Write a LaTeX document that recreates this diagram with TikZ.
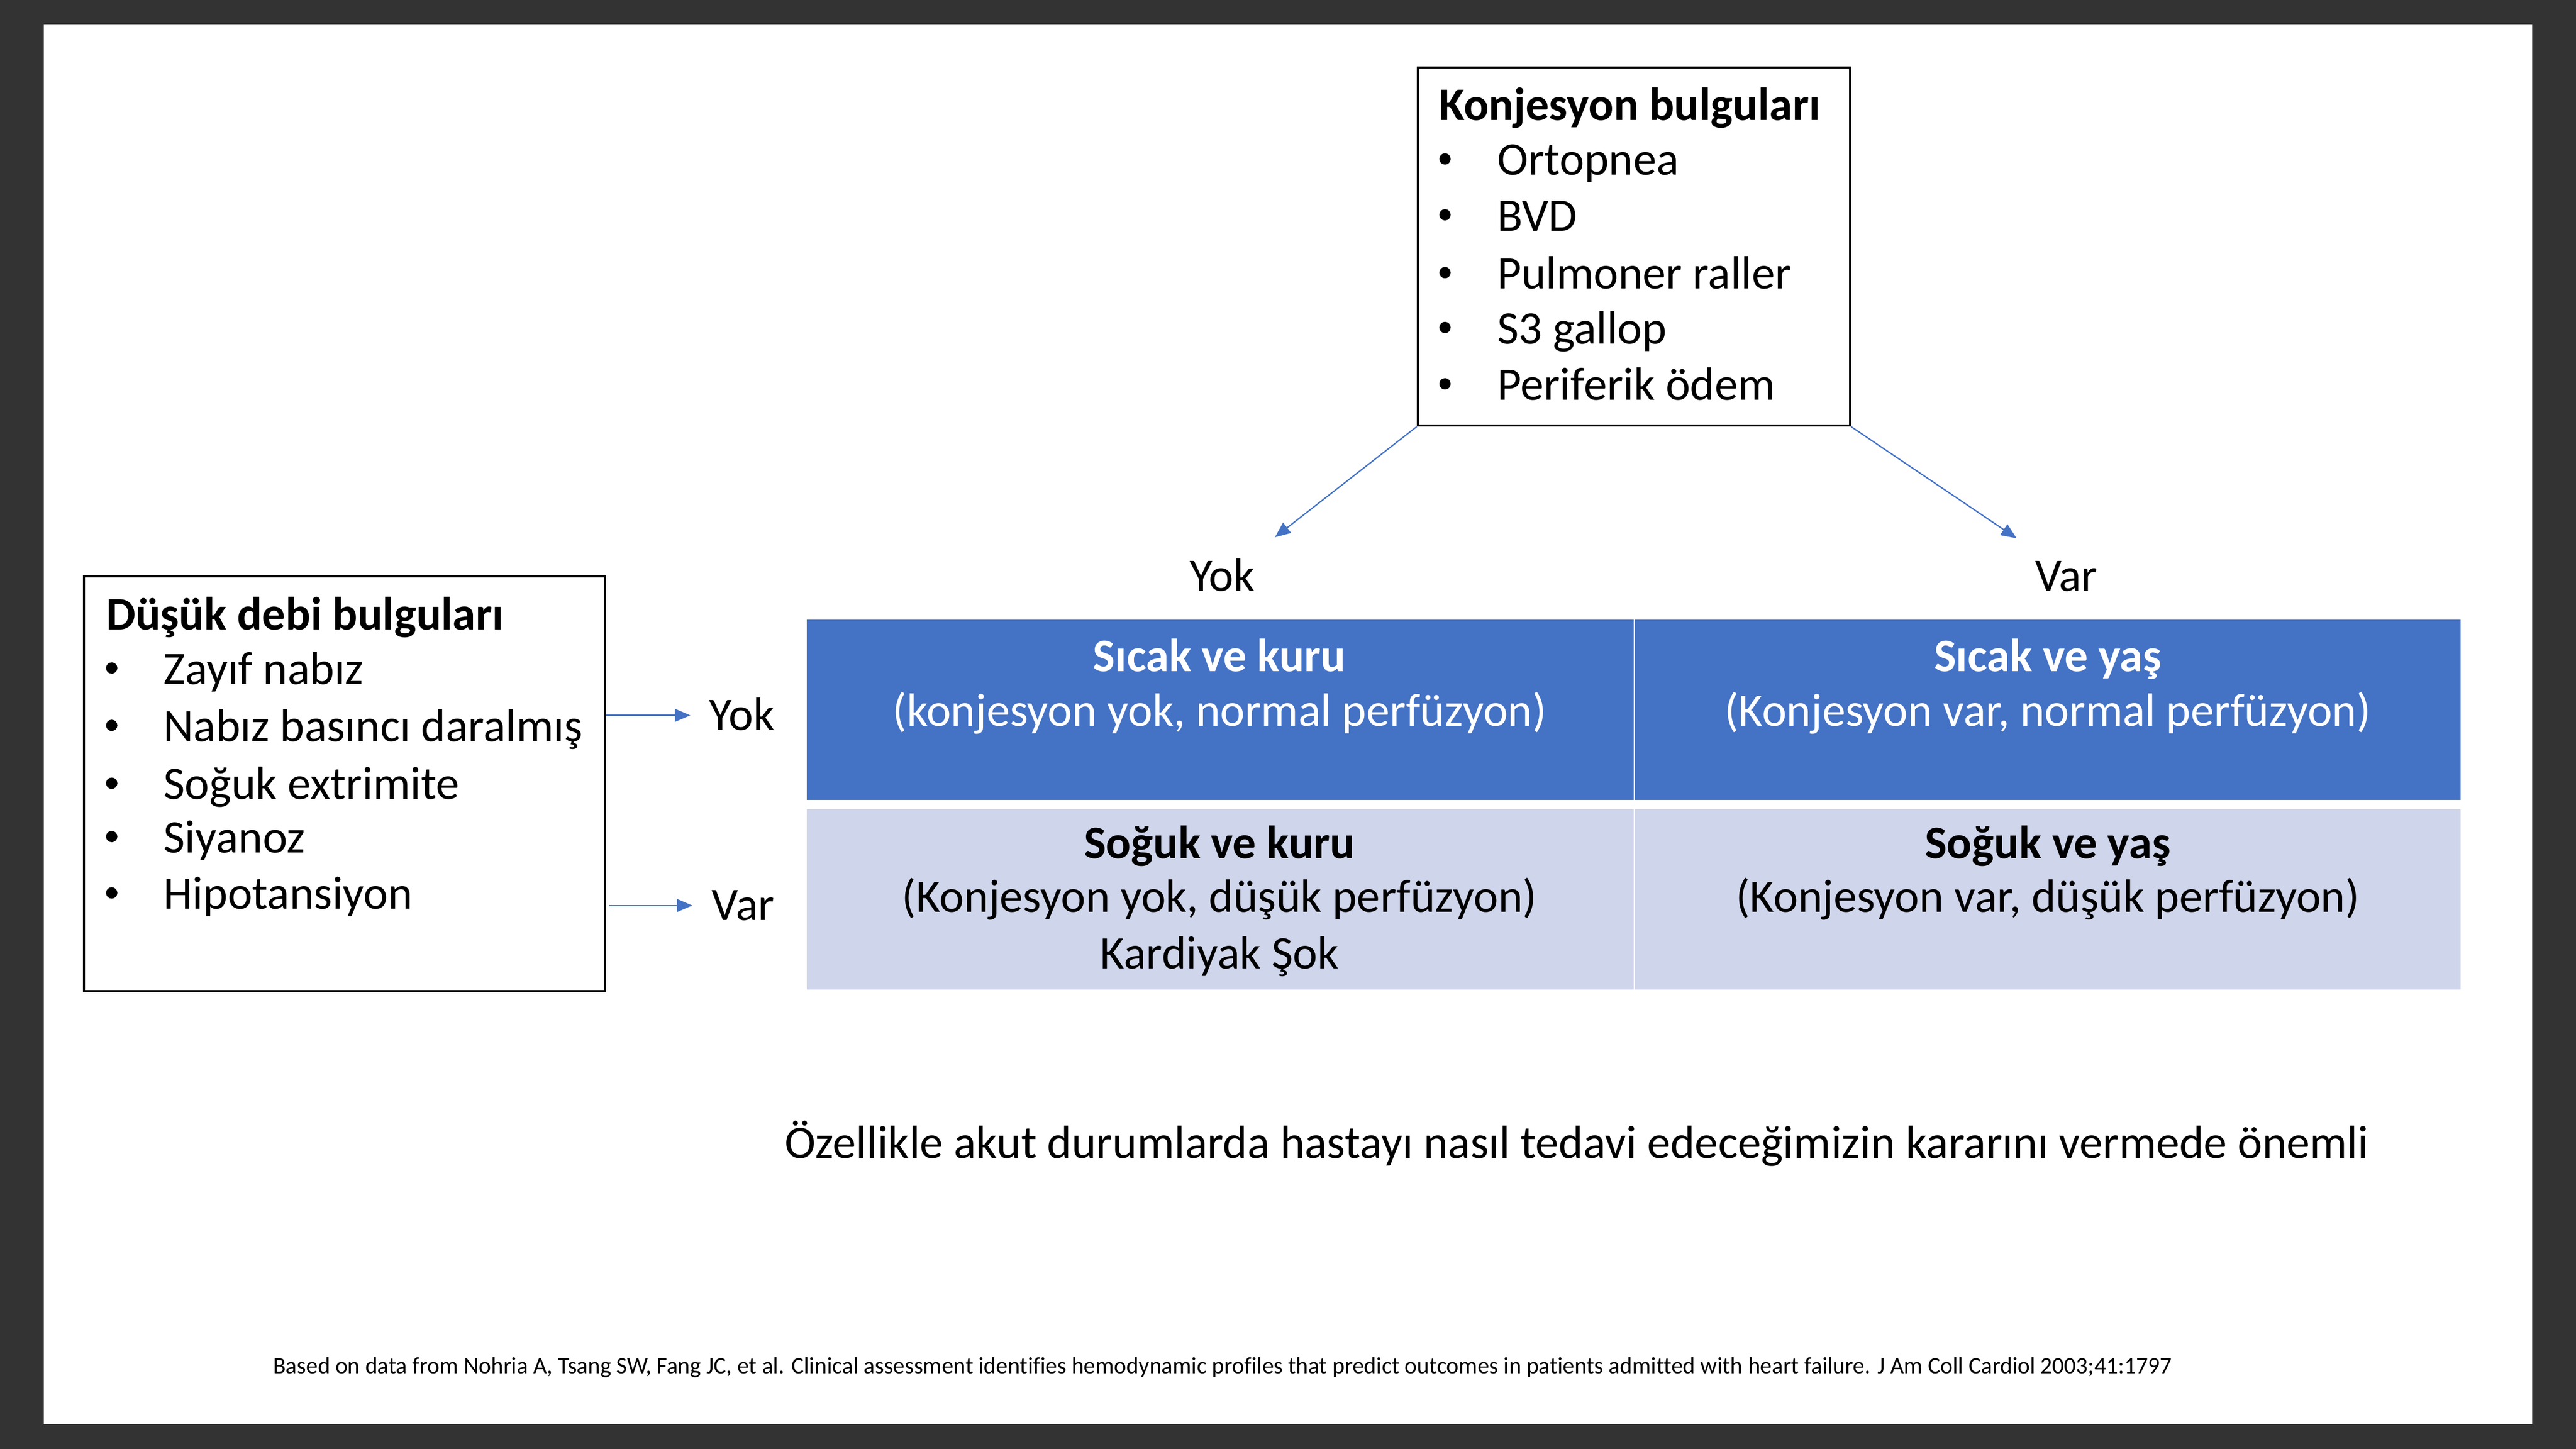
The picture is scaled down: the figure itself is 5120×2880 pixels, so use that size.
\documentclass[tikz,border=0pt]{standalone}
\usepackage{fontspec}
\setmainfont{Carlito}[Ligatures=NoCommon]
\usetikzlibrary{arrows.meta,fit}
\definecolor{pblue}{HTML}{4472C4}
\definecolor{plight}{HTML}{CFD5EA}
\definecolor{frame}{HTML}{333333}
\tikzset{
  x=0.1953125pt, y=-0.1953125pt,
  listbox/.style={draw=black, line width=0.8pt, inner sep=0pt, fill=white},
  darkcell/.style={fill=pblue, draw=white, line width=0.5pt, inner sep=0pt},
  lightcell/.style={fill=plight, draw=white, line width=0.5pt, inner sep=0pt},
  txt/.style={inner sep=0pt, font=\fontsize{18.1}{21.7}\selectfont},
  btxt/.style={txt, font=\fontsize{18.1}{21.7}\selectfont\bfseries},
  wtxt/.style={txt, text=white},
  wbtxt/.style={btxt, text=white},
  bul/.style={circle, fill=black, inner sep=0pt, minimum size=4.4pt},
  conn/.style={draw=pblue, line width=0.5pt, -{Triangle[length=6pt,width=5pt]}},
}
\begin{document}
\begin{tikzpicture}
\fill[frame] (0,0) rectangle (5120,2880);
\fill[white] (87,48) rectangle (5033,2831);
\useasboundingbox (0,0) rectangle (5120,2880);

% Konjesyon box
\node[listbox, fit={(2818,134) (3677,846)}] (konj) {};
\node[btxt, anchor=base west] (konjt) at (2859,239) {Konjesyon bulguları};
\foreach \i/\y/\t in {1/348/Ortopnea, 2/459/BVD, 3/574/Pulmoner raller, 4/683/S3 gallop, 5/795/Periferik ödem}{
  \node[bul] (kb\i) at (2872,\y-32) {};
  \node[txt, anchor=base west] (kt\i) at (2975,\y) {\t};
}

% Düşük debi box
\node[listbox, fit={(167,1146) (1202,1970)}] (debi) {};
\node[btxt, anchor=base west] (debit) at (210,1252) {Düşük debi bulguları};
\foreach \i/\y/\t in {1/1360/Zayıf nabız, 2/1474/Nabız basıncı daralmış, 3/1589/Soğuk extrimite, 4/1695/Siyanoz, 5/1807/Hipotansiyon}{
  \node[bul] (db\i) at (222,\y-32) {};
  \node[txt, anchor=base west] (dt\i) at (324,\y) {\t};
}

% Grid cells
\node[darkcell, fit={(1602,1231) (3248,1592)}] (c11) {};
\node[darkcell, fit={(3248,1231) (4892,1592)}] (c12) {};
\node[lightcell, fit={(1602,1607) (3248,1968)}] (c21) {};
\node[lightcell, fit={(3248,1607) (4892,1968)}] (c22) {};

\node[wbtxt, anchor=base] (t11a) at (2424,1335) {Sıcak ve kuru};
\node[wtxt, anchor=base] (t11b) at (2424,1443) {(konjesyon yok, normal perfüzyon)};
\node[wbtxt, anchor=base] (t12a) at (4070,1335) {Sıcak ve yaş};
\node[wtxt, anchor=base] (t12b) at (4070,1443) {(Konjesyon var, normal perfüzyon)};
\node[btxt, anchor=base] (t21a) at (2424,1706) {Soğuk ve kuru};
\node[txt, anchor=base] (t21b) at (2424,1813) {(Konjesyon yok, düşük perfüzyon)};
\node[txt, anchor=base] (t21c) at (2424,1926) {Kardiyak Şok};
\node[btxt, anchor=base] (t22a) at (4070,1706) {Soğuk ve yaş};
\node[txt, anchor=base] (t22b) at (4070,1813) {(Konjesyon var, düşük perfüzyon)};

% Labels
\node[txt, anchor=base] (yoktop) at (2429,1175) {Yok};
\node[txt, anchor=base] (vartop) at (4107,1175) {Var};
\node[txt, anchor=base west] (yokside) at (1409,1452) {Yok};
\node[txt, anchor=base west] (varside) at (1414,1829) {Var};

% Arrow end points
\coordinate (ytip) at (2534,1068);
\coordinate (vtip) at (4008,1070);
\coordinate (ys) at (1204,1422);
\coordinate (ye) at (1372,1422);
\coordinate (vs) at (1210,1800);
\coordinate (ve) at (1376,1800);

\draw[conn] (konj.south west) -- (ytip);
\draw[conn] (konj.south east) -- (vtip);
\draw[conn] (debi.east |- ys) -- (ye);
\draw[conn] (vs) -- (ve);

% Bottom texts
\node[txt, anchor=base] (note) at (3134,2302) {Özellikle akut durumlarda hastayı nasıl tedavi edeceğimizin kararını vermede önemli};
\node[inner sep=0pt, anchor=base west, font=\fontsize{9.07}{11}\selectfont] (ref) at (542,2730) {Based on data from Nohria A, Tsang SW, Fang JC, et al. Clinical assessment identifies hemodynamic profiles that predict outcomes in patients admitted with heart failure. J Am Coll Cardiol 2003;41:1797};
\end{tikzpicture}
\end{document}
